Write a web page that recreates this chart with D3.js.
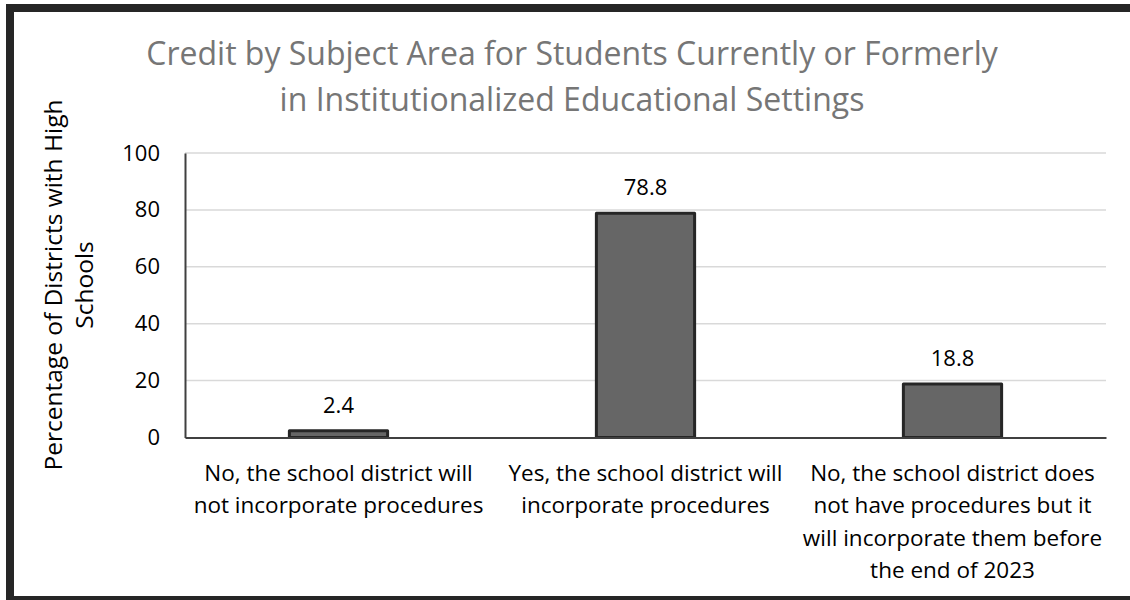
<!DOCTYPE html>
<html>
<head>
<meta charset="utf-8">
<script src="https://cdn.jsdelivr.net/npm/d3@7"></script>
<style>
  html, body { margin: 0; padding: 0; background: #fff; }
  svg { display: block; font-family: "Open Sans", "Noto Sans", sans-serif; }
</style>
</head>
<body>
<svg id="chart" width="1130" height="600"></svg>
<script>
// Survey responses and their shares
const categories = [
  ["No, the school district will", "not incorporate procedures"],
  ["Yes, the school district will", "incorporate procedures"],
  ["No, the school district does", "not have procedures but it", "will incorporate them before", "the end of 2023"]
];
const values = [2.4, 78.8, 18.8];
const yTicks = [0, 20, 40, 60, 80, 100];
const titleLines = [
  "Credit by Subject Area for Students Currently or Formerly",
  "in Institutionalized Educational Settings"
];
const yTitleLines = ["Percentage of Districts with High", "Schools"];

const W = 1130, H = 600;
const plot = { left: 185, right: 1106, top: 153, bottom: 437.5 };

const svg = d3.select("#chart");

// Outer frame
svg.append("rect")
  .attr("x", 10).attr("y", 8)
  .attr("width", W + 20).attr("height", 592)
  .attr("fill", "none")
  .attr("stroke", "#262626")
  .attr("stroke-width", 8);

const ids = d3.range(categories.length);
const x = d3.scaleBand()
  .domain(ids)
  .range([plot.left, plot.right])
  .paddingInner(0.68)
  .paddingOuter(0.34);

const y = d3.scaleLinear()
  .domain([0, 100])
  .range([plot.bottom, plot.top]);

// Horizontal gridlines
svg.append("g")
  .selectAll("line")
  .data(yTicks.filter(t => t > 0))
  .join("line")
  .attr("x1", plot.left).attr("x2", plot.right)
  .attr("y1", d => y(d)).attr("y2", d => y(d))
  .attr("stroke", "#d9d9d9")
  .attr("stroke-width", 1.5);

// Y axis tick labels
const yAxis = d3.axisLeft(y).tickValues(yTicks).tickSize(0).tickPadding(25);
const gy = svg.append("g")
  .attr("transform", `translate(${plot.left},0)`)
  .call(yAxis);
gy.select(".domain").attr("stroke", "#404040").attr("stroke-width", 2);
gy.selectAll(".tick text")
  .attr("font-family", "Open Sans, Noto Sans, sans-serif")
  .attr("font-size", 22)
  .attr("fill", "#000");

// Bars
svg.append("g")
  .selectAll("rect")
  .data(values)
  .join("rect")
  .attr("x", (d, i) => x(i))
  .attr("y", d => y(d))
  .attr("width", x.bandwidth())
  .attr("height", d => y(0) - y(d))
  .attr("fill", "#666666")
  .attr("stroke", "#262626")
  .attr("stroke-width", 3)
  .attr("stroke-linejoin", "round");

// X axis baseline
const xAxis = d3.axisBottom(x).tickSize(0).tickFormat("");
const gx = svg.append("g")
  .attr("transform", `translate(0,${plot.bottom})`)
  .call(xAxis);
gx.select(".domain").attr("stroke", "#404040").attr("stroke-width", 2);

// Value labels
svg.append("g")
  .selectAll("text")
  .data(values)
  .join("text")
  .attr("x", (d, i) => x(i) + x.bandwidth() / 2)
  .attr("y", d => y(d) - 18)
  .attr("text-anchor", "middle")
  .attr("font-size", 22)
  .attr("fill", "#000")
  .text(d => d.toFixed(1));

// Category labels
const cat = svg.append("g")
  .selectAll("text")
  .data(categories)
  .join("text")
  .attr("text-anchor", "middle")
  .attr("font-size", 22.5)
  .attr("fill", "#000");
cat.each(function(lines, i) {
  d3.select(this).selectAll("tspan")
    .data(lines)
    .join("tspan")
    .attr("x", x(i) + x.bandwidth() / 2)
    .attr("y", (l, j) => 481 + j * 32.3)
    .text(l => l);
});

// Chart title
svg.append("text")
  .attr("text-anchor", "middle")
  .attr("font-size", 32)
  .attr("fill", "#767676")
  .selectAll("tspan")
  .data(titleLines)
  .join("tspan")
  .attr("x", 572)
  .attr("y", (d, i) => 65 + i * 46)
  .text(d => d);

// Y axis title
svg.append("text")
  .attr("text-anchor", "middle")
  .attr("font-size", 24.5)
  .attr("fill", "#000")
  .attr("transform", "translate(0,285) rotate(-90)")
  .selectAll("tspan")
  .data(yTitleLines)
  .join("tspan")
  .attr("x", 0)
  .attr("y", (d, i) => 62 + i * 31)
  .text(d => d);
</script>
</body>
</html>
